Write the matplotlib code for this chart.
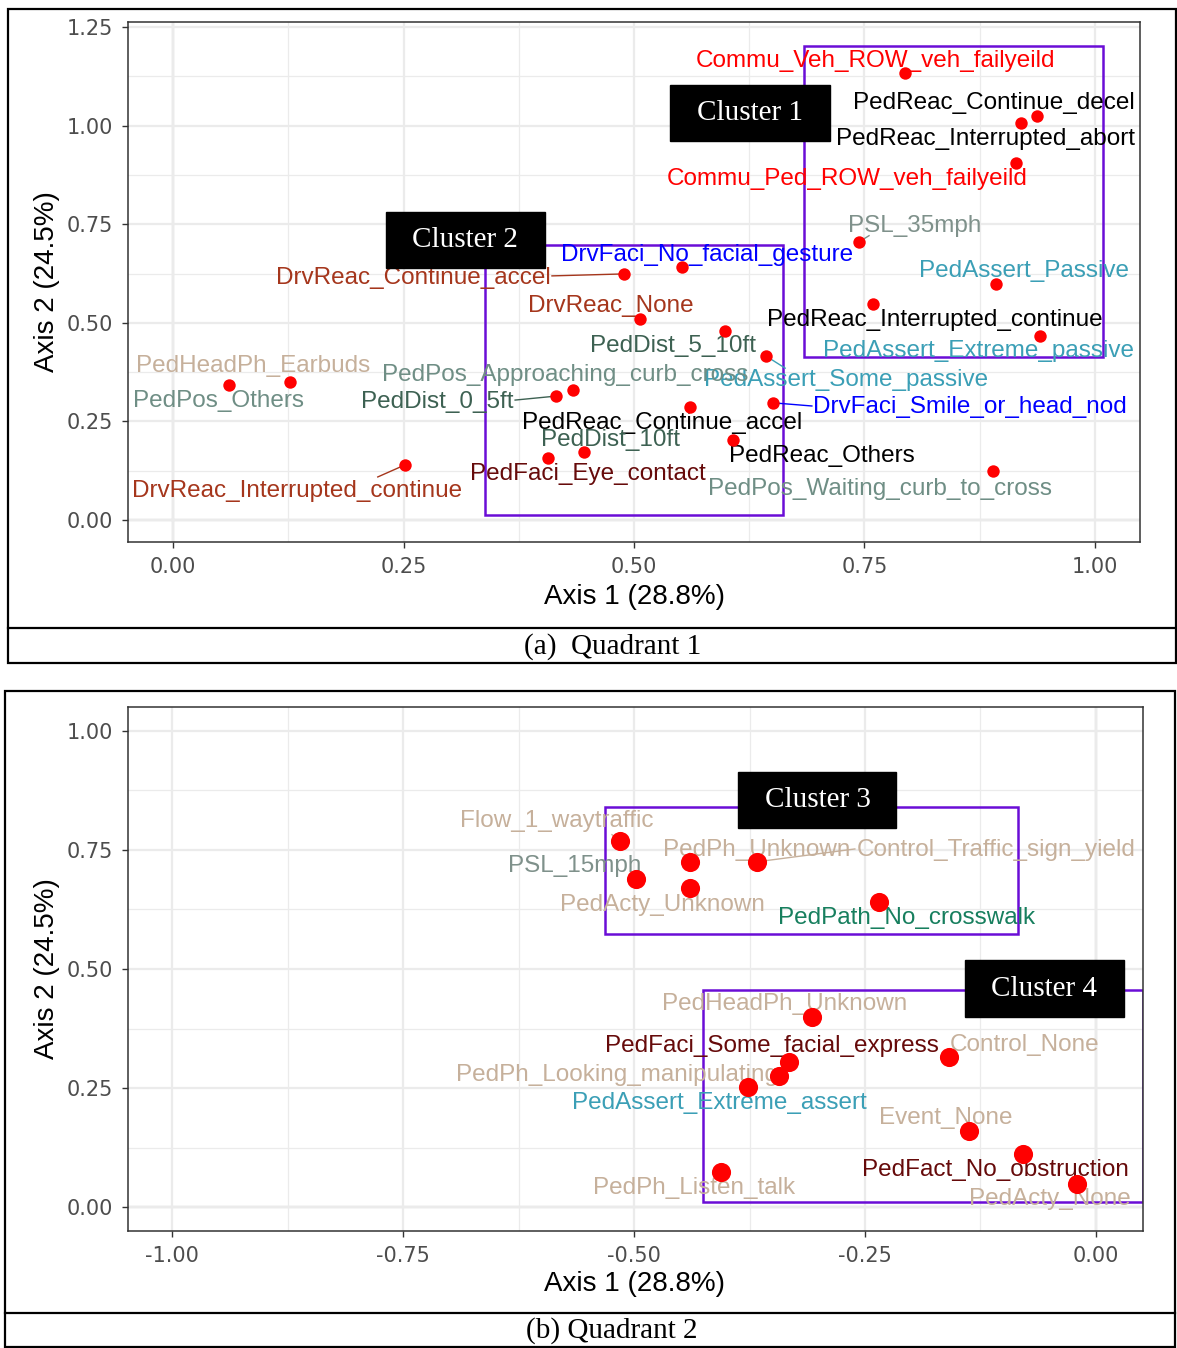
import matplotlib
matplotlib.use("Agg")
import matplotlib.pyplot as plt
from matplotlib.patches import Rectangle
from matplotlib.lines import Line2D

W, H = 1177, 1348

# ---- Quadrant 1 data ----
q1_names = ["Commu_Veh_ROW_veh_failyeild", "PedReac_Continue_decel", "PedReac_Interrupted_abort",
            "Commu_Ped_ROW_veh_failyeild", "PSL_35mph", "PedAssert_Passive",
            "PedReac_Interrupted_continue", "PedAssert_Extreme_passive", "DrvFaci_No_facial_gesture",
            "DrvReac_Continue_accel", "DrvReac_None", "PedDist_5_10ft", "PedAssert_Some_passive",
            "PedPos_Approaching_curb_cross", "PedDist_0_5ft", "DrvFaci_Smile_or_head_nod",
            "PedReac_Continue_accel", "PedDist_10ft", "PedFaci_Eye_contact", "PedReac_Others",
            "PedPos_Waiting_curb_to_cross", "DrvReac_Interrupted_continue", "PedPos_Others",
            "PedHeadPh_Earbuds"]
q1_x = [0.794, 0.937, 0.920, 0.915, 0.744, 0.893, 0.759, 0.941, 0.552, 0.489, 0.507, 0.599,
        0.643, 0.434, 0.415, 0.651, 0.561, 0.446, 0.407, 0.607, 0.889, 0.251, 0.061, 0.127]
q1_y = [1.133, 1.024, 1.007, 0.905, 0.705, 0.598, 0.548, 0.467, 0.641, 0.624, 0.510, 0.479,
        0.416, 0.330, 0.314, 0.297, 0.287, 0.172, 0.157, 0.203, 0.124, 0.139, 0.342, 0.350]
q1_lab_x = [0.762, 0.890, 0.881, 0.731, 0.805, 0.923, 0.826, 0.874, 0.579, 0.261, 0.475, 0.542,
            0.730, 0.425, 0.286, 0.864, 0.531, 0.475, 0.450, 0.704, 0.767, 0.134, 0.049, 0.087]
q1_lab_y = [1.164, 1.057, 0.966, 0.865, 0.745, 0.631, 0.507, 0.428, 0.672, 0.614, 0.543, 0.441,
            0.355, 0.368, 0.299, 0.287, 0.246, 0.203, 0.117, 0.162, 0.079, 0.074, 0.302, 0.390]
# leader segments: name -> label-side end
q1_seg = {"DrvReac_Continue_accel": (0.411, 0.619), "PSL_35mph": (0.755, 0.721),
          "PedAssert_Some_passive": (0.664, 0.385), "PedDist_0_5ft": (0.371, 0.304),
          "DrvFaci_Smile_or_head_nod": (0.693, 0.289), "DrvReac_Interrupted_continue": (0.222, 0.109)}

# ---- Quadrant 2 data ----
q2_names = ["Flow_1_waytraffic", "PSL_15mph", "PedPh_Unknown", "Control_Traffic_sign_yield",
            "PedActy_Unknown", "PedPath_No_crosswalk", "PedHeadPh_Unknown",
            "PedFaci_Some_facial_express", "PedPh_Looking_manipulating", "PedAssert_Extreme_assert",
            "PedPh_Listen_talk", "Control_None", "Event_None", "PedFact_No_obstruction", "PedActy_None"]
q2_x = [-0.515, -0.498, -0.439, -0.367, -0.439, -0.235, -0.307, -0.332, -0.343, -0.377,
        -0.406, -0.159, -0.137, -0.079, -0.021]
q2_y = [0.769, 0.689, 0.725, 0.725, 0.670, 0.641, 0.399, 0.305, 0.275, 0.252,
        0.074, 0.315, 0.160, 0.111, 0.048]
q2_lab_x = [-0.584, -0.564, -0.367, -0.108, -0.469, -0.205, -0.337, -0.351, -0.519, -0.408,
            -0.435, -0.077, -0.163, -0.109, -0.050]
q2_lab_y = [0.811, 0.716, 0.750, 0.750, 0.634, 0.607, 0.426, 0.338, 0.277, 0.218,
            0.040, 0.340, 0.187, 0.078, 0.017]
q2_seg = {"Flow_1_waytraffic": (-0.524, 0.782), "Control_Traffic_sign_yield": (-0.261, 0.752)}

# cluster boxes: (x0, x1, y0, y1) and tag boxes
q1_clusters = [("Cluster 1", (0.684, 1.009, 0.413, 1.202), (0.539, 0.713, 0.961, 1.103)),
               ("Cluster 2", (0.338, 0.662, 0.013, 0.697), (0.231, 0.403, 0.639, 0.781))]
q2_clusters = [("Cluster 3", (-0.531, -0.084, 0.574, 0.840), (-0.387, -0.216, 0.796, 0.914)),
               ("Cluster 4", (-0.425, 0.051, 0.0105, 0.456), (-0.142, 0.030, 0.399, 0.519))]

TAN = "#C6B09B"
colors = {"Commu": "#FF0000", "PedReac": "#000000", "PSL": "#7F918B", "PedAssert": "#3B9FB6",
          "DrvFaci": "#0000FF", "DrvReac": "#A5361C", "PedDist": "#3D6152", "PedPos": "#6F8E85",
          "PedHeadPh": TAN, "PedFaci": "#660A0A", "Flow": TAN, "PedPh": TAN, "Control": TAN,
          "PedActy": TAN, "PedPath": "#177F5E", "Event": TAN, "PedFact": "#660A0A"}

PURPLE = "#6A0DD6"
SANS = "Liberation Sans"
SERIF = "Liberation Serif"


def fx(px):
    return px / W


def fy(py):
    return 1 - py / H


def draw_panel(ax, names, xs, ys, lx, ly, segs, clusters, xlim, ylim, xticks, yticks, msize):
    ax.set_xlim(*xlim)
    ax.set_ylim(*ylim)
    ax.set_xticks(xticks)
    ax.set_yticks(yticks)
    ax.set_xticklabels([f"{v:.2f}" for v in xticks])
    ax.set_yticklabels([f"{v:.2f}" for v in yticks])
    minor_x = [(a + b) / 2 for a, b in zip(xticks[:-1], xticks[1:])]
    minor_y = [(a + b) / 2 for a, b in zip(yticks[:-1], yticks[1:])]
    ax.set_xticks(minor_x, minor=True)
    ax.set_yticks(minor_y, minor=True)
    ax.tick_params(which="minor", length=0)
    ax.tick_params(which="major", length=4, width=1, color="#333333", labelsize=15,
                   labelcolor="#4D4D4D", pad=7)
    ax.grid(which="major", color="#EBEBEB", lw=1.6, zorder=0)
    ax.grid(which="minor", color="#EBEBEB", lw=0.9, zorder=0)
    ax.set_axisbelow(True)
    for s in ax.spines.values():
        s.set_color("#333333")
        s.set_linewidth(1.1)
    ax.axvline(0, color="#BEBEBE", lw=1.6, zorder=0.5)
    ax.axhline(0, color="#BEBEBE", lw=1.6, zorder=0.5)

    for tag, (x0, x1, y0, y1), _ in clusters:
        ax.add_patch(Rectangle((x0, y0), x1 - x0, y1 - y0, fill=False, ec=PURPLE, lw=1.8, zorder=2))

    for n, x, y, tx, ty in zip(names, xs, ys, lx, ly):
        c = colors[n.split("_")[0]]
        if n in segs:
            sx, sy = segs[n]
            ax.plot([x, sx], [y, sy], color=c, lw=1.0, zorder=3)
        ax.text(tx, ty, n, color=c, fontsize=17.5, family=SANS, ha="center", va="center", zorder=4)
    ax.scatter(xs, ys, s=msize, color="#FF0000", zorder=5, linewidths=0)

    for tag, _, (bx0, bx1, by0, by1) in clusters:
        ax.add_patch(Rectangle((bx0, by0), bx1 - bx0, by1 - by0, fc="black", ec="black", zorder=6))
        ax.text((bx0 + bx1) / 2, (by0 + by1) / 2, tag, color="white", fontsize=21, family=SERIF,
                ha="center", va="center", zorder=7)


fig = plt.figure(figsize=(W / 100, H / 100), dpi=100)

ax1 = fig.add_axes([fx(128), fy(542), fx(1140) - fx(128), fy(22) - fy(542)])
draw_panel(ax1, q1_names, q1_x, q1_y, q1_lab_x, q1_lab_y, q1_seg, q1_clusters,
           (-0.049, 1.049), (-0.056, 1.263), [0.0, 0.25, 0.5, 0.75, 1.0],
           [0.0, 0.25, 0.5, 0.75, 1.0, 1.25], 80)

ax2 = fig.add_axes([fx(128), fy(1231), fx(1143) - fx(128), fy(707) - fy(1231)])
draw_panel(ax2, q2_names, q2_x, q2_y, q2_lab_x, q2_lab_y, q2_seg, q2_clusters,
           (-1.048, 0.051), (-0.05, 1.05), [-1.0, -0.75, -0.5, -0.25, 0.0],
           [0.0, 0.25, 0.5, 0.75, 1.0], 190)

# axis titles
for ytitle in [597, 1284]:
    fig.text(fx(634), fy(ytitle), "Axis 1 (28.8%)", fontsize=20, family=SANS, ha="center", va="center")
fig.text(fx(47), fy(282), "Axis 2 (24.5%)", fontsize=20, family=SANS, ha="center", va="center", rotation=90)
fig.text(fx(47), fy(969), "Axis 2 (24.5%)", fontsize=20, family=SANS, ha="center", va="center", rotation=90)


# figure frames and captions
def frame(x0, y0, x1, y1):
    fig.add_artist(Rectangle((fx(x0), fy(y1)), fx(x1) - fx(x0), fy(y0) - fy(y1), fill=False,
                             ec="black", lw=1.6, transform=fig.transFigure))


frame(8, 9, 1176, 663)
fig.add_artist(Line2D([fx(8), fx(1176)], [fy(628), fy(628)], color="black", lw=1.6, transform=fig.transFigure))
fig.text(fx(613), fy(647), "(a)  Quadrant 1", fontsize=21, family=SERIF, ha="center", va="center")

frame(5, 691, 1175, 1347)
fig.add_artist(Line2D([fx(5), fx(1175)], [fy(1313), fy(1313)], color="black", lw=1.6, transform=fig.transFigure))
fig.text(fx(612), fy(1331), "(b) Quadrant 2", fontsize=21, family=SERIF, ha="center", va="center")

fig.savefig("out.png", dpi=100)
